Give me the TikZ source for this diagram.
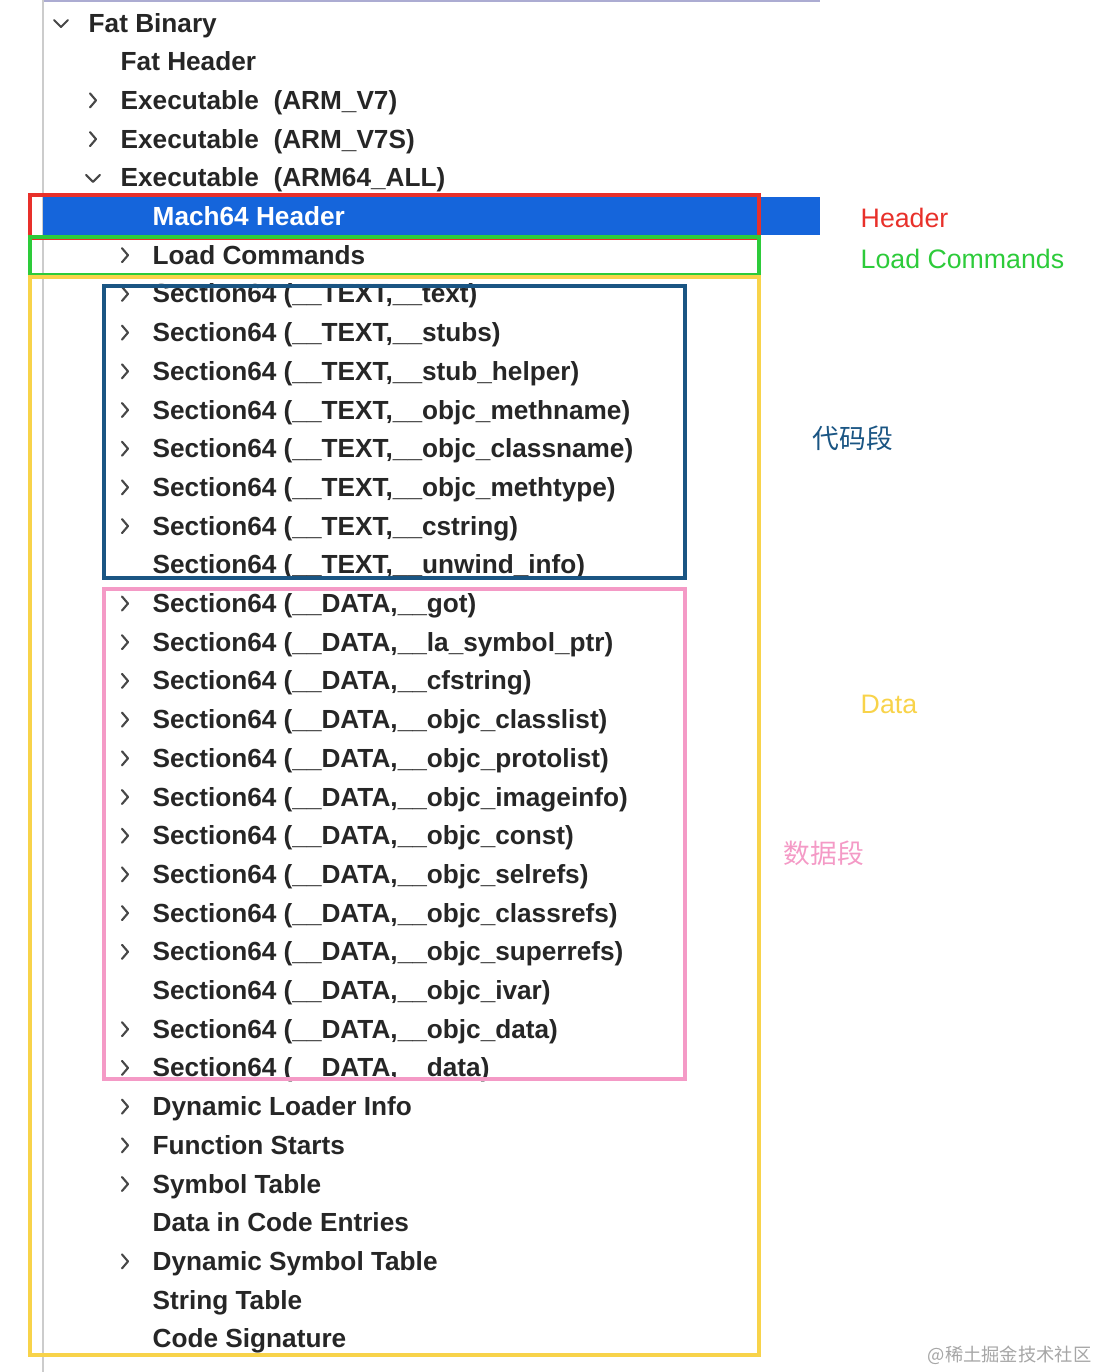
\documentclass[tikz,border=0pt]{standalone}
\usepackage{fontspec}
\setmainfont{Liberation Sans}
\newfontfamily\cjk{Noto Sans CJK SC}
\definecolor{selblue}{HTML}{1565DB}
\definecolor{boxred}{HTML}{E8302A}
\definecolor{boxgreen}{HTML}{2DCB3A}
\definecolor{boxyellow}{HTML}{F8D34A}
\definecolor{boxnavy}{HTML}{1A5583}
\definecolor{boxpink}{HTML}{F49AC6}
\definecolor{rowtext}{HTML}{262626}
\begin{document}
\begin{tikzpicture}[x=0.01cm,y=-0.01cm,
  item/.style={anchor=base west, inner sep=0pt, font=\fontsize{7.45}{8}\selectfont\bfseries, text=rowtext},
  chev/.style={draw=rowtext!85, line width=0.6pt, line cap=round, line join=round},
  region/.style={draw, line width=1.1pt},
  note/.style={anchor=west, inner sep=0pt, font=\fontsize{7.6}{9}\selectfont}]
  \useasboundingbox (0,0) rectangle (1098,1372);
  % sidebar frame and selection bar
  \draw[blue!30!gray!50, line width=0.6pt] (43,1) -- (820,1);
  \draw[gray!40, line width=0.6pt] (43,0) -- (43,1372);
  \fill[selblue] (43,197) rectangle (820,235);
  % tree rows: index/indent/chevron/text
  \foreach \i/\lvl/\ch/\txt in {
    0/1/d/Fat Binary, 1/2/n/Fat Header, 2/2/r/Executable\ \ (ARM\_V7),
    3/2/r/Executable\ \ (ARM\_V7S), 4/2/d/Executable\ \ (ARM64\_ALL),
    5/3/n/Mach64 Header, 6/3/r/Load Commands,
    7/3/r/Section64 (\_\_TEXT{,}\_\_text), 8/3/r/Section64 (\_\_TEXT{,}\_\_stubs),
    9/3/r/Section64 (\_\_TEXT{,}\_\_stub\_helper), 10/3/r/Section64 (\_\_TEXT{,}\_\_objc\_methname),
    11/3/r/Section64 (\_\_TEXT{,}\_\_objc\_classname), 12/3/r/Section64 (\_\_TEXT{,}\_\_objc\_methtype),
    13/3/r/Section64 (\_\_TEXT{,}\_\_cstring), 14/3/n/Section64 (\_\_TEXT{,}\_\_unwind\_info),
    15/3/r/Section64 (\_\_DATA{,}\_\_got), 16/3/r/Section64 (\_\_DATA{,}\_\_la\_symbol\_ptr),
    17/3/r/Section64 (\_\_DATA{,}\_\_cfstring), 18/3/r/Section64 (\_\_DATA{,}\_\_objc\_classlist),
    19/3/r/Section64 (\_\_DATA{,}\_\_objc\_protolist), 20/3/r/Section64 (\_\_DATA{,}\_\_objc\_imageinfo),
    21/3/r/Section64 (\_\_DATA{,}\_\_objc\_const), 22/3/r/Section64 (\_\_DATA{,}\_\_objc\_selrefs),
    23/3/r/Section64 (\_\_DATA{,}\_\_objc\_classrefs), 24/3/r/Section64 (\_\_DATA{,}\_\_objc\_superrefs),
    25/3/n/Section64 (\_\_DATA{,}\_\_objc\_ivar), 26/3/r/Section64 (\_\_DATA{,}\_\_objc\_data),
    27/3/r/Section64 (\_\_DATA{,}\_\_data), 28/3/r/Dynamic Loader Info,
    29/3/r/Function Starts, 30/3/r/Symbol Table, 31/3/n/Data in Code Entries,
    32/3/r/Dynamic Symbol Table, 33/3/n/String Table, 34/3/n/Code Signature} {
    \pgfmathsetmacro{\yy}{23+38.7*\i}
    \pgfmathsetmacro{\tx}{88+32*(\lvl-1)}
    \pgfmathsetmacro{\cx}{\tx-27}
    \ifnum\i=5 \def\tc{white}\else\def\tc{rowtext}\fi
    \node[item, text=\tc] (row\i) at (\tx,\yy+9) {\txt};
    \if\ch r \draw[chev] (\cx-3,\yy-7) -- (\cx+3,\yy) -- (\cx-3,\yy+7); \fi
    \if\ch d \draw[chev] (\cx-7,\yy-3) -- (\cx,\yy+4) -- (\cx+7,\yy-3); \fi
  }
  % marked regions
  \draw[region, boxred] (30,195) rectangle (759,238);
  \draw[region, boxgreen] (30,237) rectangle (759,275);
  \draw[region, boxyellow] (30,277) rectangle (759,1355);
  \draw[region, boxnavy] (104,286) rectangle (685,578);
  \draw[region, boxpink] (104,589) rectangle (685,1079);
  % region labels
  \node[note, text=boxred] (hdr) at (860,218) {Header};
  \node[note, text=boxgreen] (lc) at (860,259) {Load Commands};
  \node[note, text=boxnavy, font=\fontsize{7.6}{9}\selectfont\cjk] (code) at (812,438) {代码段};
  \node[note, text=boxyellow] (data) at (860,704) {Data};
  \node[note, text=boxpink, font=\fontsize{7.6}{9}\selectfont\cjk] (dseg) at (783,853) {数据段};
  \node[anchor=east, inner sep=0pt, text=gray!70, font=\fontsize{5.2}{6}\selectfont\cjk] (mark) at (1092,1355) {@稀土掘金技术社区};
\end{tikzpicture}
\end{document}
